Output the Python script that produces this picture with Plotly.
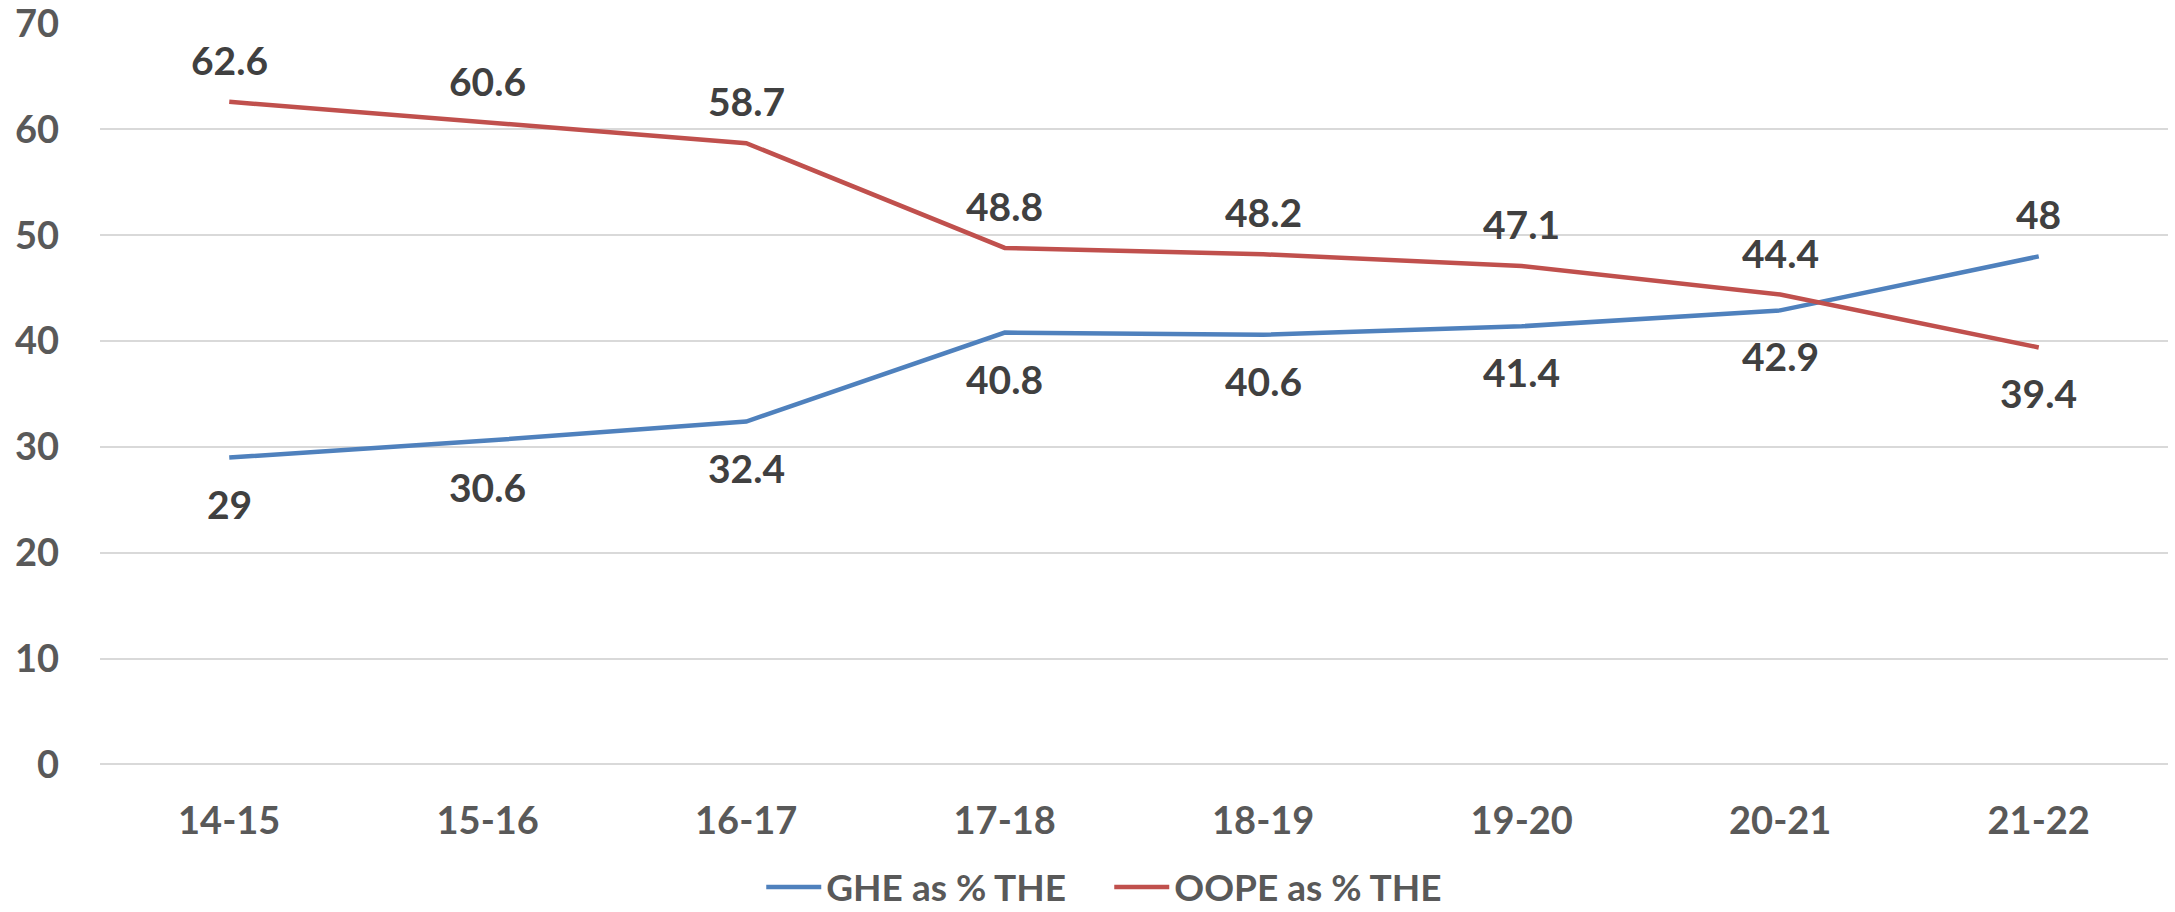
import plotly.graph_objects as go

categories = ["14-15", "15-16", "16-17", "17-18", "18-19", "19-20", "20-21", "21-22"]
ghe = [29, 30.6, 32.4, 40.8, 40.6, 41.4, 42.9, 48]
oope = [62.6, 60.6, 58.7, 48.8, 48.2, 47.1, 44.4, 39.4]
ghe_name = "GHE as % THE"
oope_name = "OOPE as % THE"

BLUE = "#4F81BD"
RED = "#C0504D"
FONT = "Lato"

fig = go.Figure()
fig.add_trace(go.Scatter(x=categories, y=ghe, mode="lines", name=ghe_name,
                         line=dict(color=BLUE, width=4.5)))
fig.add_trace(go.Scatter(x=categories, y=oope, mode="lines", name=oope_name,
                         line=dict(color=RED, width=4.5)))

annotations = []
n = len(categories)
for i, c in enumerate(categories):
    ghe_above = ghe[i] > oope[i]
    annotations.append(dict(x=c, y=ghe[i], text=f"{ghe[i]:g}", showarrow=False,
                            yshift=42 if ghe_above else -46,
                            font=dict(family=FONT, size=39, color="#404040", weight="bold")))
    annotations.append(dict(x=c, y=oope[i], text=f"{oope[i]:g}", showarrow=False,
                            yshift=-46 if ghe_above else 42,
                            font=dict(family=FONT, size=39, color="#404040", weight="bold")))

fig.update_layout(
    width=2175, height=912,
    margin=dict(l=100, r=7, t=23, b=147, autoexpand=False),
    paper_bgcolor="white", plot_bgcolor="white",
    font=dict(family=FONT, size=38, color="#595959", weight="bold"),
    annotations=annotations,
    showlegend=True,
    legend=dict(orientation="h", x=0.51, xanchor="center", xref="container",
                y=0.027, yanchor="middle", yref="container", itemwidth=55,
                entrywidth=278,
                font=dict(family=FONT, size=37, color="#595959", weight="bold")),
    xaxis=dict(type="category", range=[-0.5, n - 0.5], showgrid=False,
               showline=False, zeroline=False, ticks="", ticklabelstandoff=30,
               tickfont=dict(family=FONT, size=38, color="#595959", weight="bold")),
    yaxis=dict(range=[-0.05, 70.05], tickvals=[0, 10, 20, 30, 40, 50, 60, 70],
               showgrid=True, gridcolor="#D9D9D9", gridwidth=2,
               zeroline=True, zerolinecolor="#D9D9D9", zerolinewidth=2,
               showline=False, ticks="", ticklabeloverflow="allow",
               ticklabelstandoff=40,
               tickfont=dict(family=FONT, size=38, color="#595959", weight="bold")),
)

fig.write_html("out.html", config={"displayModeBar": False},
               post_script="document.body.style.margin='0';")
